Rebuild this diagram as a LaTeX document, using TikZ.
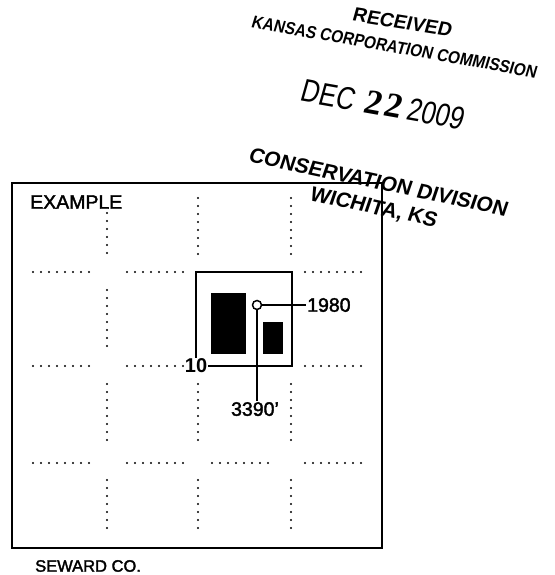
\documentclass[tikz,border=0pt]{standalone}
\usepackage{fontspec}
\setmainfont{Liberation Sans}
\newfontfamily\scanfont[FakeBold=2]{Liberation Sans}
\newfontfamily\stampfont[FakeSlant=0.12]{Liberation Sans}
\newfontfamily\kccfont[FakeSlant=0.12,FakeStretch=0.88]{Liberation Sans}
\newfontfamily\datefont[FakeStretch=0.8,FakeSlant=0.1]{Liberation Sans}
\newfontfamily\dayfont[FakeSlant=0.08]{Liberation Serif}
\usetikzlibrary{arrows.meta,positioning,calc}

\begin{document}
\begin{tikzpicture}[x=1pt,y=-1pt,
  secdots/.style={line width=2.2pt,dash pattern=on 0pt off 8pt,line cap=round},
  secline/.style={line width=2.8pt},
  lead/.style={line width=1.5pt},
  lbl/.style={font=\scanfont\fontsize{19.5}{19.5}\selectfont,inner sep=1pt},
  stamp/.style={font=\stampfont\bfseries\fontsize{#1}{#1}\selectfont,inner sep=0pt}]
\useasboundingbox (0,0) rectangle (554,575);
\draw[line width=1.8pt] (12,183) rectangle (382,548);
\foreach \y in {272,366}{\foreach \a/\b in {33/90,127/184,305/368}{\draw[secdots] (\a,\y)--(\b,\y);}}
\foreach \a/\b in {33/90,127/184,212/275,305/368}{\draw[secdots] (\a,463)--(\b,463);}
\foreach \x/\a/\b in {107/213/254,198/198/255,291/198/255}{\draw[secdots] (\x,\a)--(\x,\b);}
\foreach \x in {107,198,291}{
  \draw[secdots] (\x,384)--(\x,447);
  \draw[secdots] (\x,480)--(\x,531);
}
\draw[secdots] (107,290)--(107,347);
\node[lbl,anchor=west] (example) at (29,202) {EXAMPLE};
\node[lbl,font=\scanfont\fontsize{16.5}{16.5}\selectfont,anchor=west] (county) at (34,566) {SEWARD CO.};
\node[lbl,font=\bfseries\fontsize{20}{20}\selectfont] (sec10) at (196,366) {10};
\draw[secline] (sec10.east) -| (292,272) -| (sec10.north);
\fill (211,293) rectangle (246,354);
\fill (263,322) rectangle (283,354);
\node[circle,draw,lead,fill=white,minimum size=9pt,inner sep=0pt] (well) at (257,305) {};
\node[lbl,anchor=west] (ftn) at (306,305) {1980};
\node[lbl,anchor=north] (fte) at (255,401) {3390’};
\draw[lead] (well) -- (ftn);
\draw[lead] (well.south) -- (well.south |- fte.north);
% received stamp
\node[stamp=19.5,rotate=-9] (recv) at (402,22) {RECEIVED};
\node[stamp=17.5,font=\kccfont\bfseries\fontsize{17.5}{17.5}\selectfont,rotate=-10] (kcc) at (394,47) {KANSAS CORPORATION COMMISSION};
\node[rotate=-10,inner sep=0pt] (date) at (382,104) {\datefont\fontsize{32}{32}\selectfont DEC\hspace{11pt}{\dayfont\bfseries\fontsize{35}{35}\selectfont 2\hspace{2pt}2}\hspace{6pt}2009};
\node[stamp=21,rotate=-12] (cons) at (378,182) {CONSERVATION DIVISION};
\node[stamp=21,rotate=-12] (wich) at (373,208) {WICHITA, KS};
\end{tikzpicture}
\end{document}
